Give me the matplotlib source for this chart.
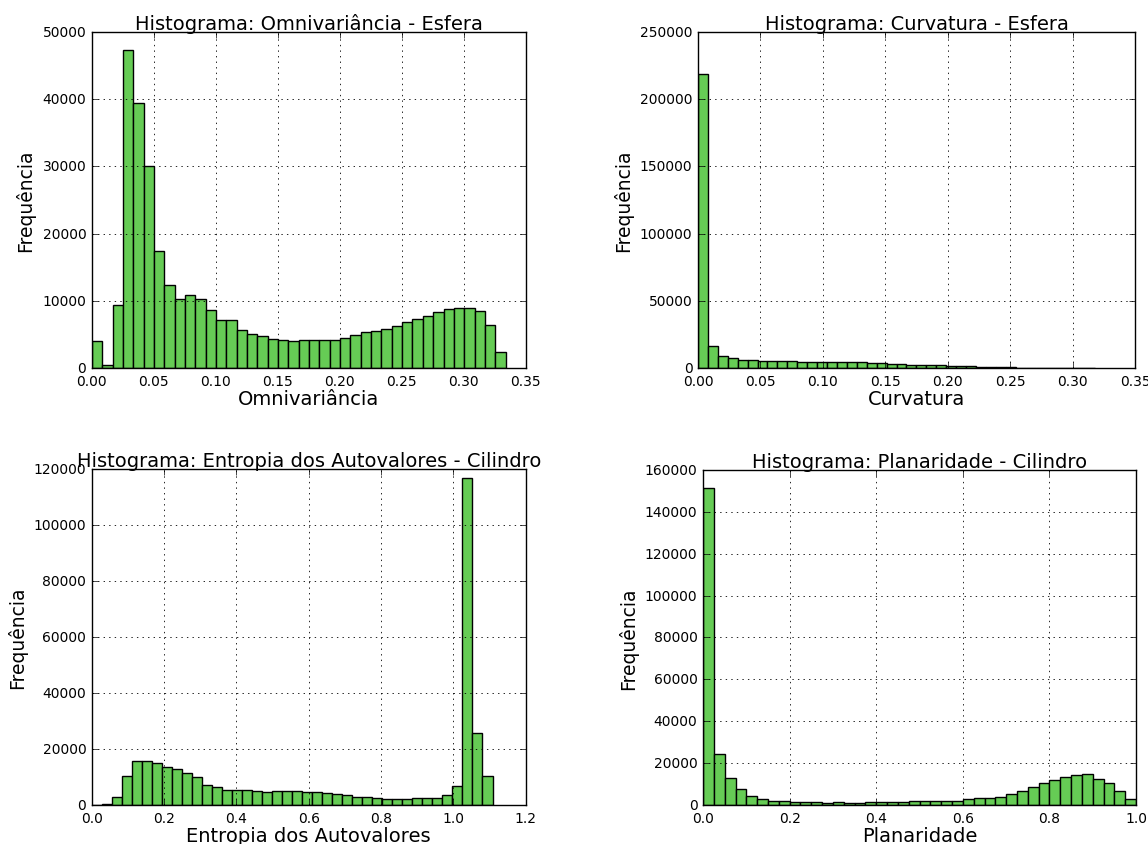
import numpy as np
import matplotlib
matplotlib.use("Agg")
import matplotlib.pyplot as plt

plt.style.use("classic")
plt.rcParams["font.family"] = ["DejaVu Sans"]

# Omnivariancia - Esfera (40 bins, 0 .. 0.3337)
omni_max = 0.3337
omni_counts = [4000, 500, 9400, 47300, 39400, 30100, 17400, 12300, 10300, 10800,
               10300, 8600, 7200, 7200, 5600, 5000, 4700, 4300, 4100, 4000,
               4100, 4100, 4100, 4100, 4500, 4900, 5300, 5500, 5800, 6200,
               6800, 7300, 7700, 8300, 8800, 9000, 9000, 8500, 6400, 2400]

# Curvatura - Esfera (40 bins, 0 .. 0.318)
curv_max = 0.318
curv_counts = [219000, 16500, 9000, 7200, 6300, 6200, 5400, 5300, 5300, 5100,
               4700, 4500, 4400, 4400, 4300, 4300, 4200, 4100, 3400, 3300,
               3000, 2600, 2500, 2300, 2100, 1500, 1400, 1300, 1000, 600,
               500, 400, 300, 150, 50, 20, 10, 5, 3, 2]

# Entropia dos Autovalores - Cilindro (40 bins, 0 .. 1.108)
entr_max = 1.108
entr_counts = [0, 400, 2800, 10400, 15800, 15800, 15000, 13600, 12800, 11300,
               9900, 7200, 6300, 5400, 5400, 5400, 4900, 4500, 4900, 4900,
               4900, 4500, 4500, 4100, 4000, 3400, 3000, 3000, 2500, 2300,
               2000, 2000, 2500, 2500, 2500, 3500, 6700, 116700, 25800, 10300]

# Planaridade - Cilindro (40 bins, 0 .. 1.0)
plan_max = 1.0
plan_counts = [151600, 24300, 12800, 7400, 4400, 2700, 1900, 1900, 1300, 1300,
               1300, 1100, 1300, 1100, 1100, 1300, 1200, 1200, 1200, 1900,
               2000, 2000, 2000, 2000, 2700, 3300, 3300, 3800, 5000, 6600,
               8500, 10500, 11700, 13200, 14200, 14600, 12600, 10500, 6900, 2700]

panels = [
    ("Histograma: Omnivariância - Esfera", "Omnivariância", omni_counts, omni_max,
     (0, 0.35), (0, 50000), [0.080, 0.5633, 0.378, 0.3976]),
    ("Histograma: Curvatura - Esfera", "Curvatura", curv_counts, curv_max,
     (0, 0.35), (0, 250000), [0.608, 0.5633, 0.3807, 0.3976]),
    ("Histograma: Entropia dos Autovalores - Cilindro", "Entropia dos Autovalores",
     entr_counts, entr_max, (0, 1.2), (0, 120000), [0.080, 0.0462, 0.378, 0.3976]),
    ("Histograma: Planaridade - Cilindro", "Planaridade", plan_counts, plan_max,
     (0, 1.0), (0, 160000), [0.6124, 0.0462, 0.3772, 0.3964]),
]

fig = plt.figure(figsize=(11.48, 8.45), dpi=100, facecolor="white")

for title, xlab, counts, vmax, xlim, ylim, rect in panels:
    ax = fig.add_axes(rect)
    edges = np.linspace(0, vmax, len(counts) + 1)
    ax.hist(edges[:-1], bins=edges, weights=counts, color="#66cc55",
            edgecolor="black", linewidth=1.0)
    ax.set_xlim(*xlim)
    ax.set_ylim(*ylim)
    ax.set_title(title, fontsize=14, pad=2)
    ax.set_xlabel(xlab, fontsize=14, labelpad=1)
    ax.set_ylabel("Frequência", fontsize=13.5)
    ax.tick_params(labelsize=10)
    ax.grid(True, color="black", linestyle=":", linewidth=0.6)

fig.savefig("out.png", dpi=100, facecolor="white")
